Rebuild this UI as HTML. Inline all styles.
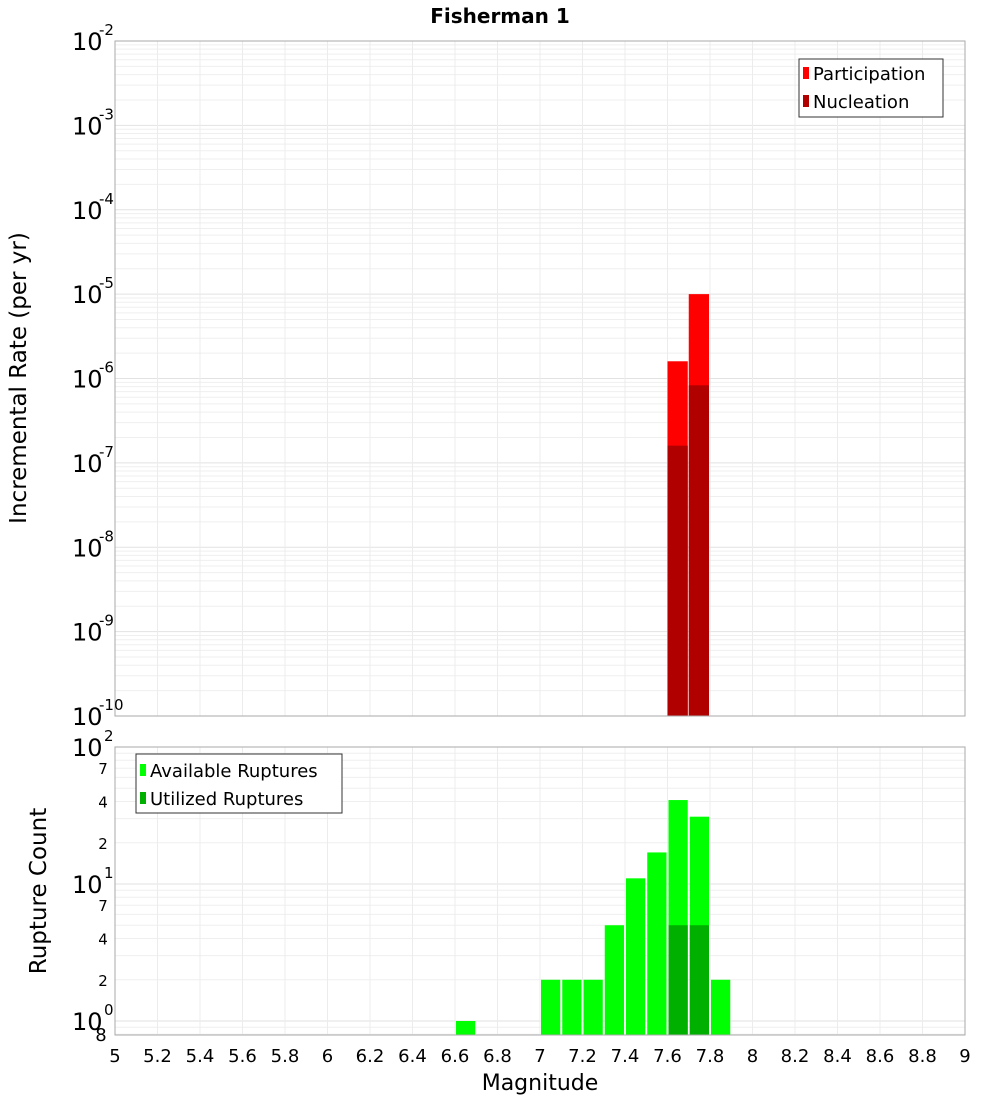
<!DOCTYPE html>
<html><head><meta charset="utf-8"><style>
body{margin:0;background:#fff;}
svg text{font-family:"DejaVu Sans","Liberation Sans",sans-serif;}
</style></head><body>
<svg id="chart" width="1000" height="1100" xmlns="http://www.w3.org/2000/svg"></svg>
<script>
const binCenters=[7.65,7.75];
const participation=[1.6e-6,1.0e-5];
const nucleation=[1.6e-7,8.3e-7];
const countBins=[6.65,7.05,7.15,7.25,7.35,7.45,7.55,7.65,7.75,7.85];
const available=[1,2,2,2,5,11,17,41,31,2];
const utilizedBins=[7.65,7.75];
const utilized=[5,5];
const xTicks=[5,5.2,5.4,5.6,5.8,6,6.2,6.4,6.6,6.8,7,7.2,7.4,7.6,7.8,8,8.2,8.4,8.6,8.8,9];
const topExps=[-2,-3,-4,-5,-6,-7,-8,-9,-10];
const botExps=[2,1,0];
const botMinor=[7,4,2];

const svg=document.getElementById('chart');
const NS='http://www.w3.org/2000/svg';
function el(t,a,p){const e=document.createElementNS(NS,t);for(const k in a)e.setAttribute(k,a[k]);(p||svg).appendChild(e);return e;}
const X0=115,X1=965;
const x=m=>X0+(m-5)/(9-5)*(X1-X0);
const T0=41,T1=716;
const yTop=v=>T0+(-2-Math.log10(v))/8*(T1-T0);
const B0=747,B1=1035,BD=137;
const yBot=v=>B0+(2-Math.log10(v))*BD;

// title
let t=el('text',{x:500,y:23,'text-anchor':'middle','font-size':20,'font-weight':'bold'});t.textContent='Fisherman 1';


// top panel
let g=el('g',{});
el('rect',{x:X0,y:T0,width:X1-X0,height:T1-T0,fill:'#fff'},g);
for(let d=-10;d<-2;d++){for(let k=1;k<10;k++){const yy=yTop(k*Math.pow(10,d));el('line',{x1:X0,x2:X1,y1:yy,y2:yy,stroke:k==1?'#e2e2e2':'#efefef','stroke-width':1},g);}}
xTicks.forEach(v=>{el('line',{x1:x(v),x2:x(v),y1:T0,y2:T1,stroke:'#ececec'},g);});
binCenters.forEach((c,i)=>{
 let r=el('rect',{x:x(c-0.05),y:yTop(participation[i]),width:x(c+0.05)-x(c-0.05)-1,height:T1-yTop(participation[i]),fill:'#ff0000'},g);
 
 let n=el('rect',{x:x(c-0.05),y:yTop(nucleation[i]),width:x(c+0.05)-x(c-0.05)-1,height:T1-yTop(nucleation[i]),fill:'#b00000'},g);
 
});
el('rect',{x:X0,y:T0,width:X1-X0,height:T1-T0,fill:'none',stroke:'#aaa'},g);
topExps.forEach(e=>{const yy=yTop(Math.pow(10,e));
 let tx=el('text',{x:72,y:yy+9,'font-size':24});tx.textContent='10';
 
 let s=el('text',{x:99,y:yy-6,'font-size':15});s.textContent=String(e);});
t=el('text',{x:0,y:0,'font-size':23,'text-anchor':'middle',transform:'translate(26,378) rotate(-90)'});t.textContent='Incremental Rate (per yr)';

let lg=el('g',{});
el('rect',{x:799,y:59,width:144,height:58,fill:'#fff',stroke:'#333'},lg);
el('rect',{x:803,y:67,width:6,height:12,fill:'#ff0000'},lg);
t=el('text',{x:813,y:80,'font-size':18},lg);t.textContent='Participation';
el('rect',{x:803,y:95,width:6,height:12,fill:'#b00000'},lg);
t=el('text',{x:813,y:108,'font-size':18},lg);t.textContent='Nucleation';

// bottom panel
g=el('g',{});
el('rect',{x:X0,y:B0,width:X1-X0,height:B1-B0,fill:'#fff'},g);
for(let d=-1;d<2;d++){for(let k=1;k<10;k++){const yy=yBot(k*Math.pow(10,d));if(yy>B1||yy<B0)continue;el('line',{x1:X0,x2:X1,y1:yy,y2:yy,stroke:k==1?'#e2e2e2':'#efefef'},g);}}
xTicks.forEach(v=>{el('line',{x1:x(v),x2:x(v),y1:B0,y2:B1,stroke:'#ececec'},g);});
countBins.forEach((c,i)=>{
 let r=el('rect',{x:x(c-0.05)+1,y:yBot(available[i]),width:x(c+0.05)-x(c-0.05)-2,height:B1-yBot(available[i]),fill:'#00ff00'},g);
 
});
utilizedBins.forEach((c,i)=>{
 let r=el('rect',{x:x(c-0.05)+1,y:yBot(utilized[i]),width:x(c+0.05)-x(c-0.05)-2,height:B1-yBot(utilized[i]),fill:'#00b000'},g);
 
});
el('rect',{x:X0,y:B0,width:X1-X0,height:B1-B0,fill:'none',stroke:'#aaa'},g);
botExps.forEach(e=>{const yy=yBot(Math.pow(10,e));
 let tx=el('text',{x:72,y:yy+9,'font-size':24});tx.textContent='10';
 
 let s=el('text',{x:104,y:yy-6,'font-size':15});s.textContent=String(e);});
[1,0].forEach(e=>botMinor.forEach(k=>{const yy=yBot(k*Math.pow(10,e));
 let s=el('text',{x:103,y:yy+6,'font-size':15,'text-anchor':'middle'});s.textContent=String(k);}));
t=el('text',{x:101,y:1041,'font-size':18,'text-anchor':'middle'});t.textContent='8';
t=el('text',{x:0,y:0,'font-size':23,'text-anchor':'middle',transform:'translate(46,891) rotate(-90)'});t.textContent='Rupture Count';

lg=el('g',{});
el('rect',{x:136,y:754,width:206,height:59,fill:'#fff',stroke:'#333'},lg);
el('rect',{x:140,y:764,width:6,height:12,fill:'#00ff00'},lg);
t=el('text',{x:150,y:777,'font-size':18},lg);t.textContent='Available Ruptures';
el('rect',{x:140,y:792,width:6,height:12,fill:'#00b000'},lg);
t=el('text',{x:150,y:805,'font-size':18},lg);t.textContent='Utilized Ruptures';

xTicks.forEach(v=>{let tx=el('text',{x:x(v),y:1062,'font-size':18,'text-anchor':'middle'});tx.textContent=String(v);
 });
t=el('text',{x:540,y:1090,'font-size':22,'text-anchor':'middle'});t.textContent='Magnitude';

</script>
</body></html>
